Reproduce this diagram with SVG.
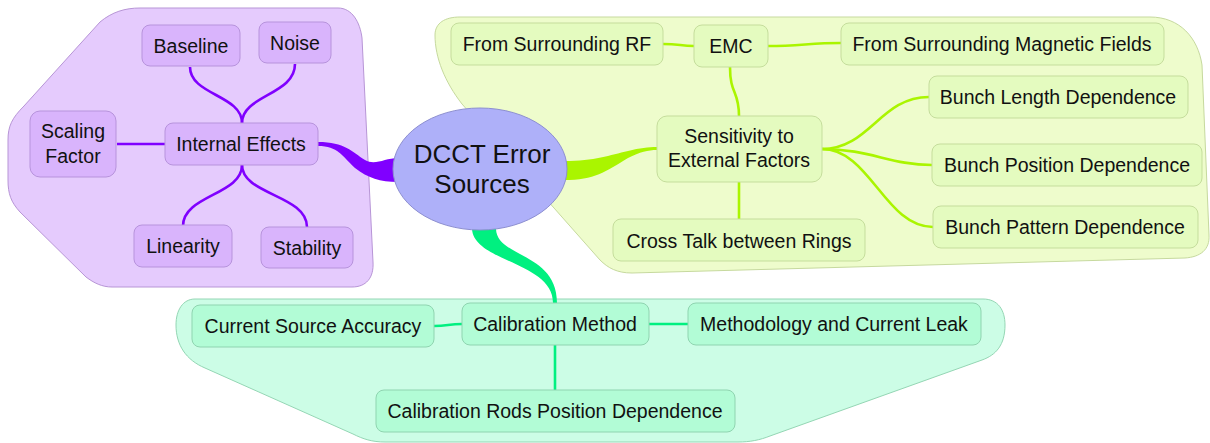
<svg xmlns="http://www.w3.org/2000/svg" width="1210" height="443" viewBox="0 0 1210 443">
<style>
text{font-family:"Liberation Sans",Arial,sans-serif;font-size:19.5px;fill:#111;text-anchor:middle}
.pn{fill:#d9b4fc;stroke:#b793dc;stroke-width:1}
.ln{fill:#e4fbbf;stroke:#c5dd9c;stroke-width:1}
.mn{fill:#b2fcd6;stroke:#8fd4b0;stroke-width:1}
.pc{fill:none;stroke:#8000ff;stroke-width:2.6}
.lc{fill:none;stroke:#aaf500;stroke-width:2.6}
.mc{fill:none;stroke:#00f080;stroke-width:2.6}
</style>
<g id="regions">
<path d="M100,22 C112,12 125,8 140,8 L338,8 C352,8 360,22 362,38 L373,262 C374,278 366,287 352,287 L112,287 C102,287 94,283 86,277 L20,212 C11,202 8,194 8,180 L8,140 C8,126 12,118 24,106 Z" fill="#e5cbfd" stroke="#b795d6" stroke-width="1"/>
<path d="M435,35 C435,23 445,17 460,17 L1150,17 C1180,17 1198,38 1202,65 L1209,235 C1210,250 1200,257 1185,258 L632,273 C617,273 608,268 600,260 L462,104 C445,82 435,58 435,35 Z" fill="#eefccc" stroke="#c6d99e" stroke-width="1"/>
<path d="M195,299 L983,299 C998,299 1005,310 1005,325 C1005,345 996,355 982,360 L770,436 C760,440 750,442 738,442 L385,442 C372,442 363,439 353,434 L205,368 C186,360 176,345 176,325 C176,310 183,299 195,299 Z" fill="#ccfde6" stroke="#94d6b4" stroke-width="1"/>
</g>
<g id="connectors">
<path d="M318,142 C345,142 352,152 365,160 C375,166 385,158 398,158 L398,182 C380,182 368,178 355,168 C342,156 338,146 318,146 Z" fill="#8000ff"/>
<path d="M564,161 C595,161 610,155 628,151 C640,148 648,147 657,147 L657,150 C648,150 640,152 628,158 C605,172 595,180 564,180 Z" fill="#aaf500"/>
<path d="M472,229 C474,262 553,262 553,303 L557,303 C557,252 497,258 496,229 Z" fill="#00f080"/>
<path class="pc" d="M242,123 C242,95 190,95 190,67"/>
<path class="pc" d="M242,123 C242,95 295,95 295,64"/>
<path class="pc" d="M242,165 C242,195 183,195 183,226"/>
<path class="pc" d="M242,165 C242,195 307,195 307,227"/>
<path class="pc" d="M117,144 L165,144"/>
<path class="lc" d="M663,44 C680,44 680,46 694,46"/>
<path class="lc" d="M768,46 C800,46 810,43 841,43"/>
<path class="lc" d="M730,67 C730,95 739,90 739,116"/>
<path class="lc" d="M739,182 L739,220"/>
<path class="lc" d="M822,149 C870,149 880,97 929,97"/>
<path class="lc" d="M822,149 C870,149 890,165 932,165"/>
<path class="lc" d="M822,149 C870,149 885,227 933,227"/>
<path class="mc" d="M434,326 C448,326 448,324 462,324"/>
<path class="mc" d="M649,324 L688,324"/>
<path class="mc" d="M555,345 L555,390"/>
</g>
<g id="root">
<ellipse cx="480" cy="169" rx="87" ry="61" fill="#aeb0f9" stroke="#8d8fd0" stroke-width="1"/>
<text x="482" y="163" style="font-size:26px">DCCT Error</text>
<text x="482" y="193" style="font-size:26px">Sources</text>
</g>
<g id="baseline"><rect class="pn" x="142" y="25" width="98" height="41" rx="8"/><text x="191" y="53">Baseline</text></g>
<g id="noise"><rect class="pn" x="259" y="22" width="72" height="41" rx="8"/><text x="295" y="50">Noise</text></g>
<g id="scaling"><rect class="pn" x="30" y="111" width="86" height="66" rx="10"/><text x="73" y="138">Scaling</text><text x="73" y="163">Factor</text></g>
<g id="internal"><rect class="pn" x="165" y="123" width="153" height="42" rx="8"/><text x="241" y="151">Internal Effects</text></g>
<g id="linearity"><rect class="pn" x="134" y="225" width="98" height="42" rx="8"/><text x="183" y="253">Linearity</text></g>
<g id="stability"><rect class="pn" x="261" y="227" width="92" height="41" rx="8"/><text x="307" y="255">Stability</text></g>
<g id="rf"><rect class="ln" x="451" y="23" width="212" height="42" rx="8"/><text x="557" y="51">From Surrounding RF</text></g>
<g id="emc"><rect class="ln" x="694" y="25" width="74" height="42" rx="8"/><text x="731" y="53">EMC</text></g>
<g id="mag"><rect class="ln" x="841" y="23" width="323" height="42" rx="8"/><text x="1002" y="51">From Surrounding Magnetic Fields</text></g>
<g id="sensitivity"><rect class="ln" x="657" y="116" width="165" height="66" rx="10"/><text x="739" y="143">Sensitivity to</text><text x="739" y="167">External Factors</text></g>
<g id="blength"><rect class="ln" x="929" y="76" width="259" height="42" rx="8"/><text x="1058" y="104">Bunch Length Dependence</text></g>
<g id="bposition"><rect class="ln" x="932" y="144" width="270" height="42" rx="8"/><text x="1067" y="172">Bunch Position Dependence</text></g>
<g id="bpattern"><rect class="ln" x="933" y="206" width="265" height="42" rx="8"/><text x="1065" y="234">Bunch Pattern Dependence</text></g>
<g id="crosstalk"><rect class="ln" x="613" y="219" width="252" height="42" rx="8"/><text x="739" y="248">Cross Talk between Rings</text></g>
<g id="csa"><rect class="mn" x="192" y="305" width="242" height="42" rx="8"/><text x="313" y="333">Current Source Accuracy</text></g>
<g id="calmethod"><rect class="mn" x="462" y="303" width="187" height="42" rx="8"/><text x="555" y="331">Calibration Method</text></g>
<g id="methodology"><rect class="mn" x="688" y="303" width="293" height="42" rx="8"/><text x="834" y="331">Methodology and Current Leak</text></g>
<g id="rods"><rect class="mn" x="376" y="390" width="359" height="42" rx="8"/><text x="555" y="418">Calibration Rods Position Dependence</text></g>
</svg>
